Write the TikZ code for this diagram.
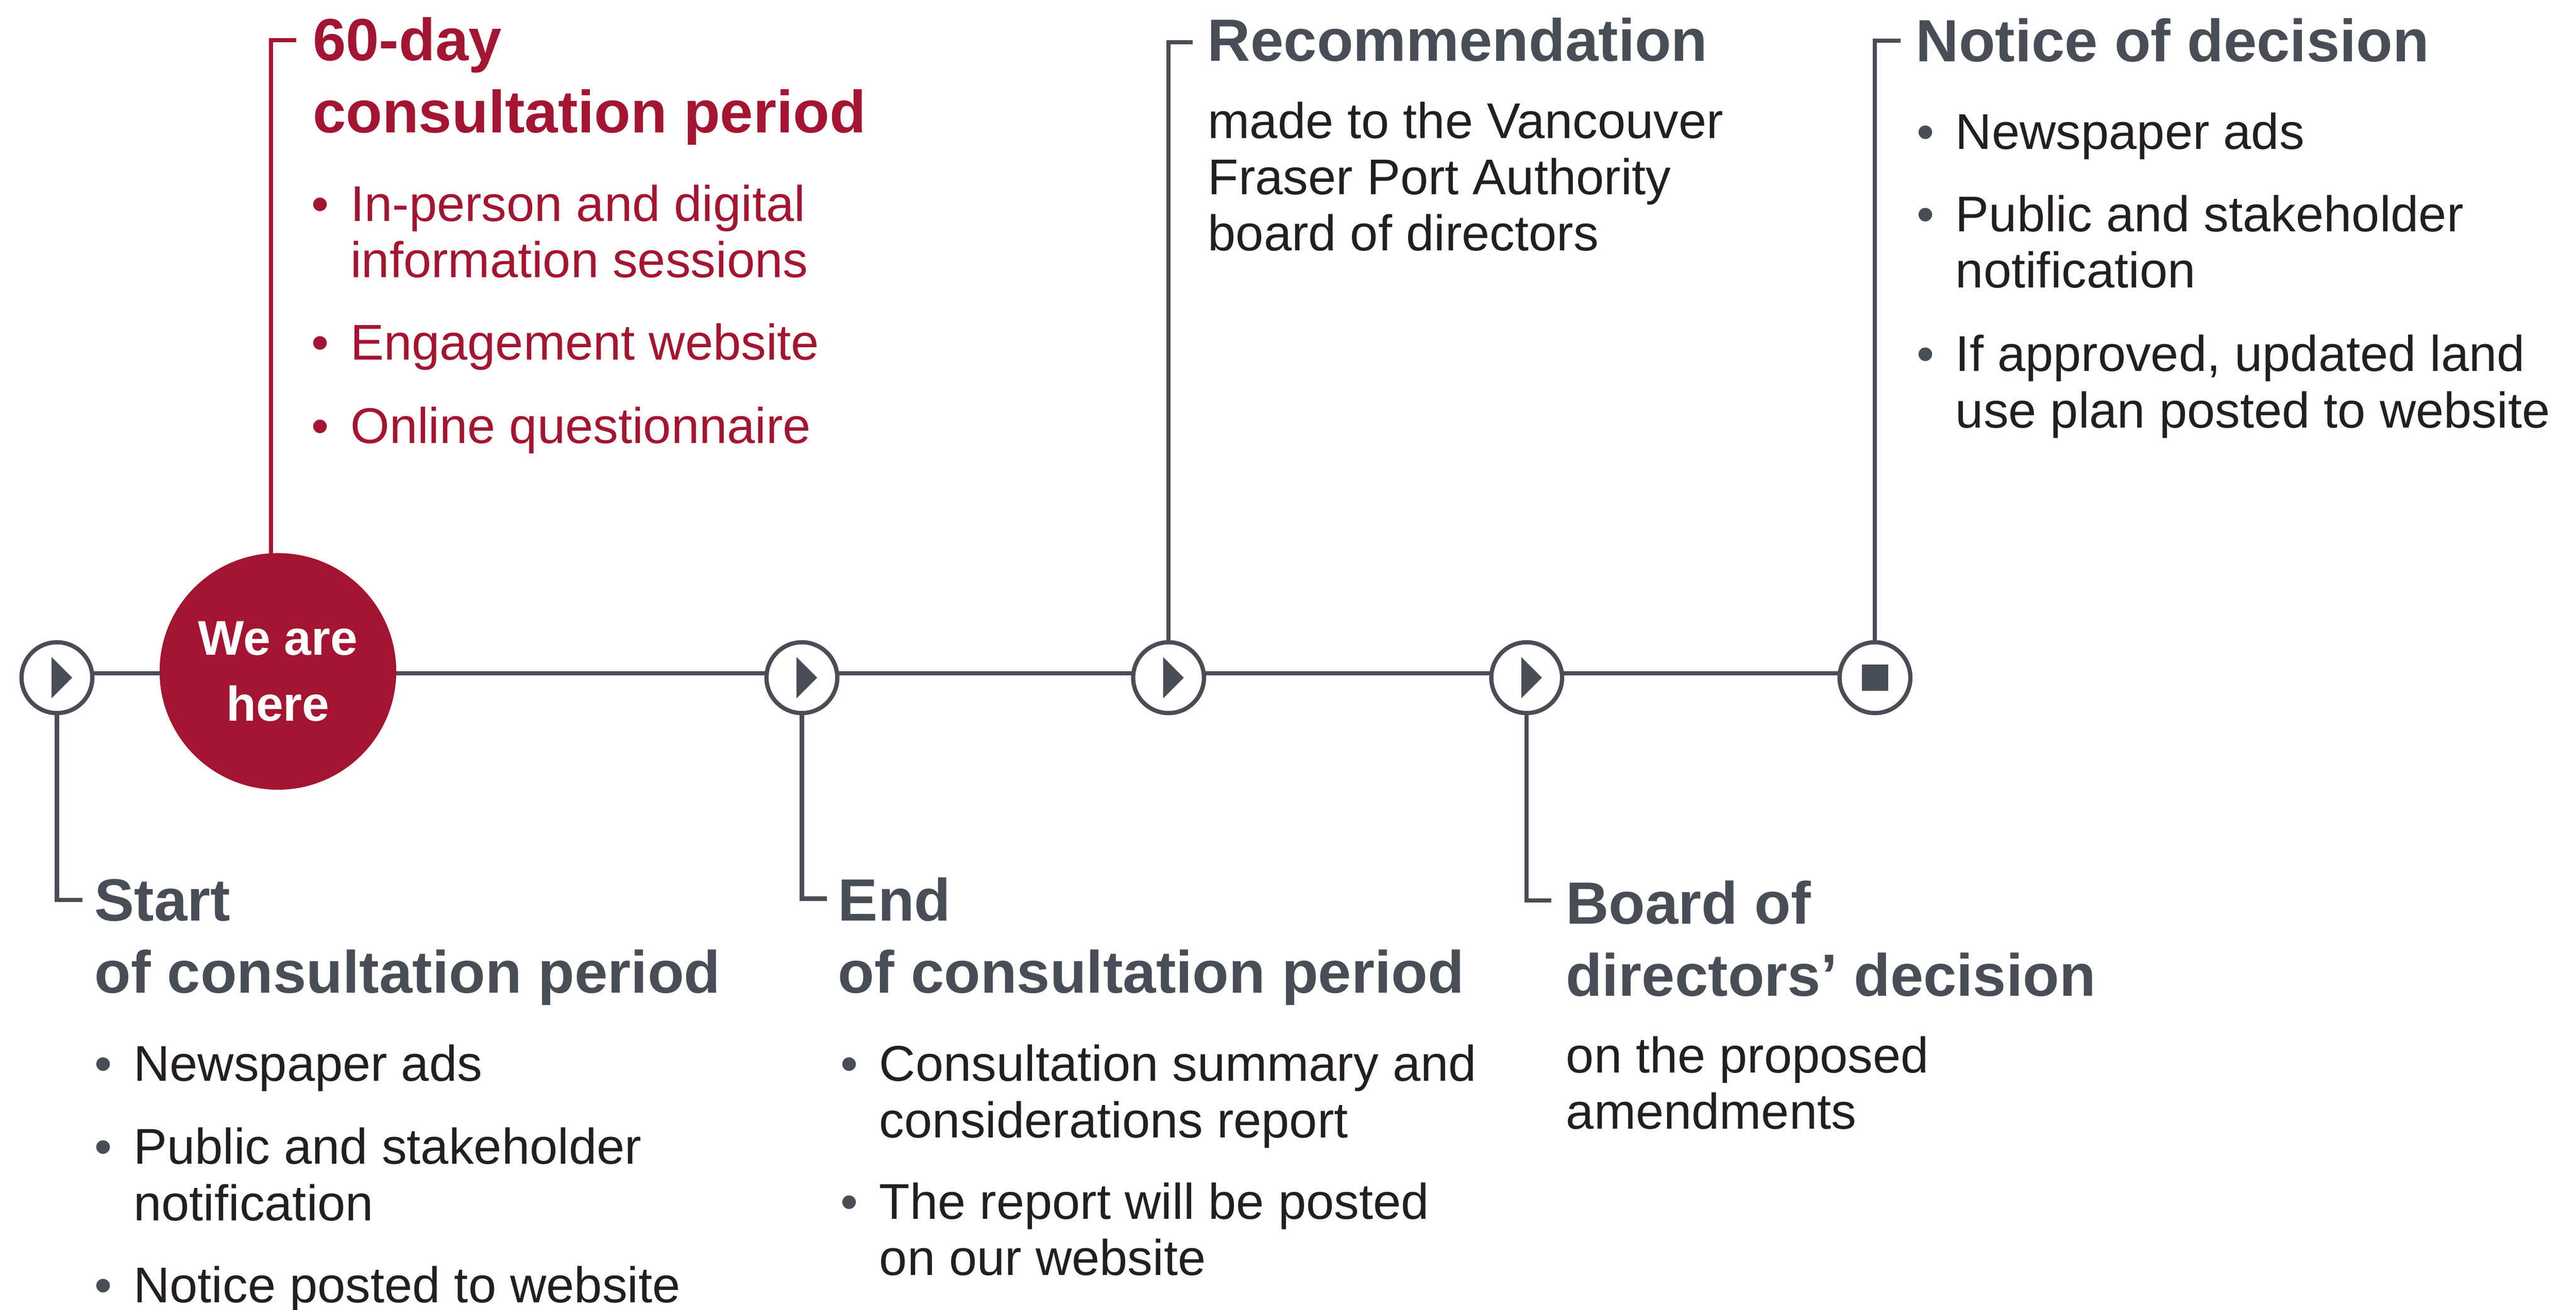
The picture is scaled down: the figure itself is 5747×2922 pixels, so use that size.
\documentclass[tikz,border=0pt]{standalone}
\usepackage{fontspec}
\setmainfont{Liberation Sans}
\usetikzlibrary{calc}
\definecolor{tlgray}{RGB}{73,77,86}
\definecolor{tlred}{RGB}{163,21,48}
\definecolor{tlblack}{RGB}{35,31,32}
\pgfdeclarelayer{bg}
\pgfsetlayers{bg,main}
\newcommand{\rbul}{\llap{\textbullet\hspace{4.8pt}}}
\newcommand{\gbul}{\llap{\textcolor{tlgray}{\textbullet}\hspace{4.8pt}}}
\begin{document}
\begin{tikzpicture}[x=0.1pt,y=-0.1pt,
  mstone/.style={circle, draw=tlgray, line width=0.95pt, fill=white, minimum size=15.8pt, inner sep=0pt},
  herenode/.style={circle, fill=tlred, minimum size=52.8pt, inner sep=0pt, text=white,
    font=\fontsize{10.9}{14.8}\selectfont\bfseries, align=center},
  head/.style={anchor=base west, inner sep=0pt, text=tlgray,
    font=\fontsize{13.3}{16.05}\selectfont\bfseries, align=left},
  body/.style={anchor=base west, inner sep=0pt, text=tlblack,
    font=\fontsize{11.2}{12.55}\selectfont, align=left},
  conn/.style={draw=tlgray, line width=0.95pt},
  icon/.style={fill=tlgray},
]
\useasboundingbox (0,0) rectangle (5747,2922);

% milestones
\node[mstone] (c1) at (127,1512) {};
\node[herenode] (here) at (620,1498) {We are\\here};
\node[mstone] (c2) at (1789,1512) {};
\node[mstone] (c3) at (2607,1512) {};
\node[mstone] (c4) at (3406,1512) {};
\node[mstone] (c5) at (4183,1512) {};

% bracket ends
\coordinate (sb) at (184,2008);
\coordinate (rb) at (661,90);
\coordinate (eb) at (1845,2005);
\coordinate (rcb) at (2661,94);
\coordinate (bb) at (3461,2009);
\coordinate (nb) at (4240,91);

\begin{pgfonlayer}{bg}
  \draw[conn] ([yshift=1pt]c1.center) -- ([yshift=1pt]c1.center -| here.center);
  \draw[conn] ([yshift=1pt]c2.center -| here.center) -- ([yshift=1pt]c2.center);
  \draw[conn] ([yshift=1pt]c2.center) -- ([yshift=1pt]c3.center);
  \draw[conn] ([yshift=1pt]c3.center) -- ([yshift=1pt]c4.center);
  \draw[conn] ([yshift=1pt]c4.center) -- ([yshift=1pt]c5.center);
  \draw[conn] (c1.center) |- (sb);
  \draw[conn, draw=tlred] ([xshift=-1.5pt]here.center) |- (rb);
  \draw[conn] (c2.center) |- (eb);
  \draw[conn] (c3.center) |- (rcb);
  \draw[conn] (c4.center) |- (bb);
  \draw[conn] (c5.center) |- (nb);
\end{pgfonlayer}

% icons
\foreach \n in {c1,c2,c3,c4}{
  \fill[icon] ($(\n.center)+(-12,-46)$) -- ($(\n.center)+(-12,46)$) -- ($(\n.center)+(34,0)$) -- cycle;
}
\fill[icon] ($(c5.center)+(-29,-29)$) rectangle ($(c5.center)+(29,29)$);

% (multi-line nodes are placed by the baseline of their last line)
% Start
\node[head] (sh) at (209,2215) {Start\\of consultation period};
\node[body] (s1) at (296,2412) {\gbul Newspaper ads};
\node[body] (s2) at (296,2723) {\gbul Public and stakeholder\\notification};
\node[body] (s3) at (296,2906) {\gbul Notice posted to website};

% 60-day
\node[head, text=tlred] (rh) at (696,296) {60-day\\consultation period};
\node[body, text=tlred] (r1) at (780,619) {\rbul In-person and digital\\information sessions};
\node[body, text=tlred] (r2) at (780,803) {\rbul Engagement website};
\node[body, text=tlred] (r3) at (780,989) {\rbul Online questionnaire};

% End
\node[head] (eh) at (1868,2215) {End\\of consultation period};
\node[body] (e1) at (1960,2538) {\gbul Consultation summary and\\considerations report};
\node[body] (e2) at (1960,2845) {\gbul The report will be posted\\on our website};

% Recommendation
\node[head] (rch) at (2692,136) {Recommendation};
\node[body] (rc1) at (2693,559) {made to the Vancouver\\Fraser Port Authority\\board of directors};

% Board
\node[head] (bh) at (3491,2222) {Board of\\directors’ decision};
\node[body] (b1) at (3492,2519) {on the proposed\\amendments};

% Notice
\node[head] (nh) at (4272,137) {Notice of decision};
\node[body] (n1) at (4361,333) {\gbul Newspaper ads};
\node[body] (n2) at (4361,642) {\gbul Public and stakeholder\\notification};
\node[body] (n3) at (4361,954) {\gbul If approved, updated land\\use plan posted to website};
\end{tikzpicture}
\end{document}
